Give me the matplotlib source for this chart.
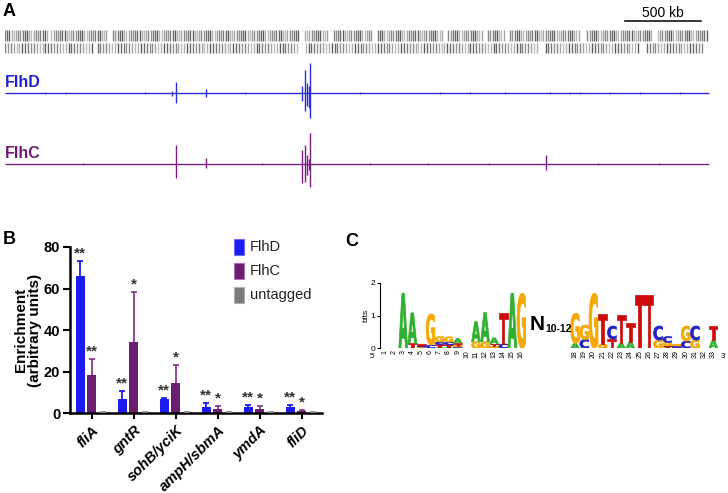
import numpy as np
import matplotlib
matplotlib.use('Agg')
import matplotlib.pyplot as plt
from matplotlib.textpath import TextPath
from matplotlib.patches import PathPatch, Rectangle
from matplotlib.font_manager import FontProperties
from matplotlib.transforms import Affine2D

plt.rcParams['font.family'] = ['Liberation Sans', 'DejaVu Sans']

W, H = 728, 493

# ---------------- Panel A data ----------------
genome_kb = 4640
scale_kb = 500
gene_top_end_kb = 4625
gene_bottom_end_kb = 4580
gene_gaps_top = [(276, 296), (677, 703), (1932, 1958), (2122, 2149), (2418, 2444),
                 (2878, 2904), (3140, 3167), (3285, 3318), (3778, 3824), (4257, 4290)]
gene_gaps_bottom = [(572, 598), (1938, 1971), (3515, 3548), (4172, 4205)]

flhd_peak_kb = [1099, 1125, 1320, 1952, 1969, 1985, 1996, 2007]
flhd_peak_up = [2, 10.6, 4, 7, 23, 10, 7, 30]
flhd_peak_down = [3, 10.7, 4, 8, 18, 13, 15, 25]
flhd_minor_kb = [263, 401, 920, 1580, 2333, 2858, 3055, 3285, 3581, 3713, 3778, 3975, 4172, 4435]

flhc_peak_kb = [1125, 1320, 1952, 1969, 1985, 1996, 2007, 3553]
flhc_peak_up = [18.7, 5.7, 13.7, 18.7, 8.7, 5, 30.7, 8.7]
flhc_peak_down = [14.3, 4.3, 19.3, 18.3, 11.3, 6, 23.3, 6.3]
flhc_minor_kb = [510, 1690, 2400, 2780, 3180, 3900, 4300]

# ---------------- Panel B data ----------------
genes = ['fliA', 'gntR', 'sohB/yciK', 'ampH/sbmA', 'ymdA', 'fliD']
series_names = ['FlhD', 'FlhC', 'untagged']
flhd_vals = [66.0, 6.7, 6.7, 3.2, 3.2, 2.9]
flhd_err = [7.4, 4.2, 0.8, 1.9, 0.8, 1.1]
flhc_vals = [18.3, 34.4, 14.4, 2.2, 2.2, 1.0]
flhc_err = [8.0, 23.8, 8.8, 1.4, 1.4, 0.5]
untagged_vals = [0.3, 0.4, 0.4, 0.3, 0.3, 0.3]
untagged_err = [0.1, 0.1, 0.1, 0.1, 0.1, 0.1]
flhd_sig = ['**', '**', '**', '**', '**', '**']
flhc_sig = ['**', '*', '*', '*', '*', '*']
untagged_sig = ['', '', '', '', '', '']

# ---------------- Panel C data ----------------
left_pos = list(range(1, 17))
right_pos = list(range(18, 34))
logo_pos = left_pos + right_pos
bits_A = [0, 0, 1.68, 0.93, 0.02, 0.0, 0.05, 0.05, 0.14, 0, 0.61, 0.89, 0.18, 0.0, 1.68, 0.0,
          0.15, 0.0, 0.0, 0.0, 0.0, 0.15, 0.20, 0.0, 0.0, 0.0, 0.03, 0.0, 0.0, 0.0, 0, 0.25]
bits_C = [0, 0, 0.0, 0.0, 0.04, 0.10, 0.08, 0.08, 0.04, 0, 0.0, 0.0, 0.02, 0.13, 0.0, 0.0,
          0.0, 0.27, 0.0, 0.0, 0.40, 0.0, 0.0, 0.0, 0.0, 0.43, 0.18, 0.04, 0.22, 0.43, 0, 0.0]
bits_G = [0, 0, 0.0, 0.0, 0.02, 0.95, 0.16, 0.16, 0.04, 0, 0.20, 0.20, 0.04, 0.0, 0.0, 1.68,
          0.92, 0.44, 1.68, 0.12, 0.0, 0.0, 0.0, 0.0, 0.0, 0.25, 0.10, 0.05, 0.46, 0.25, 0, 0.0]
bits_T = [0, 0, 0.0, 0.15, 0.04, 0.0, 0.07, 0.06, 0.08, 0, 0.0, 0.0, 0.08, 0.96, 0.0, 0.0,
          0.0, 0.0, 0.0, 0.92, 0.28, 0.88, 0.56, 1.63, 1.63, 0.0, 0.05, 0.03, 0.0, 0.0, 0, 0.43]
logo_colors = {'A': '#2fb02f', 'C': '#2323c4', 'G': '#f5a800', 'T': '#cc0a0a'}

col_flhd = '#1b1bf2'
col_flhc = '#6b1d70'
col_untag = '#7a7a7a'
col_flhd_trk = '#2b2bd8'
col_flhc_trk = '#7a1f7c'

fig = plt.figure(figsize=(W / 100, H / 100), dpi=100)


def px_axes(x0, y0, x1, y1, **kw):
    return fig.add_axes([x0 / W, 1 - y1 / H, (x1 - x0) / W, (y1 - y0) / H], **kw)


# ---------------- Panel A ----------------
axg = px_axes(5, 5, 711, 55)
axg.set_xlim(0, genome_kb)
axg.set_ylim(55, 5)
axg.axis('off')
grays = ['#7a7a7a', '#a5a5a5', '#5c5c5c', '#929292', '#bdbdbd', '#6a6a6a', '#888888', '#b0b0b0']


def gene_ticks(end_kb, gaps, step):
    pos = np.arange(0, end_kb, step)
    keep = np.ones(len(pos), bool)
    for a, b in gaps:
        keep &= ~((pos >= a) & (pos <= b))
    return pos[keep]


top = gene_ticks(gene_top_end_kb, gene_gaps_top, 14.5)
bot = gene_ticks(gene_bottom_end_kb, gene_gaps_bottom, 19.0)
axg.vlines(top, 30, 40.5, colors=[grays[(i * 5) % len(grays)] for i in range(len(top))], lw=1.0)
axg.vlines(bot, 43, 52.5, colors=[grays[(i * 3) % len(grays)] for i in range(len(bot))], lw=1.0)
# scale bar
axg.plot([genome_kb * 0.878, genome_kb * 0.878 + scale_kb], [21, 21], color='black', lw=1.1)
axg.text(genome_kb * 0.878 + scale_kb / 2, 13, f'{scale_kb} kb', ha='center', va='center', fontsize=10)

trk_specs = [
    (55, 130, flhd_peak_kb, flhd_peak_up, flhd_peak_down, flhd_minor_kb, col_flhd_trk, 'FlhD', '#2020d8', 82.5),
    (126, 201, flhc_peak_kb, flhc_peak_up, flhc_peak_down, flhc_minor_kb, col_flhc_trk, 'FlhC', '#6e1a72', 153.5),
]
for (y0, y1, pk, up, dn, minor, col, name, lcol, ly) in trk_specs:
    ax = px_axes(5, y0, 711, y1)
    ax.set_xlim(0, genome_kb)
    ax.set_ylim(-37.5, 37.5)
    ax.axis('off')
    ax.hlines(0, 0, gene_top_end_kb, color=col, lw=1.0)
    ax.vlines(minor, -1.0, 1.0, color=col, lw=0.6)
    ax.vlines(pk, [-d for d in dn], up, color=col, lw=1.0)
    fig.text(5 / W, 1 - ly / H, name, color=lcol, fontsize=11.5, fontweight='bold', ha='left', va='center')

# ---------------- Panel B ----------------
axb = px_axes(70, 247, 322, 413.3)
gsp = 3.72
xs = np.arange(len(genes)) * gsp
vals = [flhd_vals, flhc_vals, untagged_vals]
errs = [flhd_err, flhc_err, untagged_err]
sigs = [flhd_sig, flhc_sig, untagged_sig]
cols = [col_flhd, col_flhc, col_untag]
ecols = [col_flhd, '#8c3a92', '#8a8a8a']
for j in range(3):
    xx = xs + j
    axb.bar(xx, vals[j], width=0.84, color=cols[j], edgecolor='none', zorder=2)
    tops = np.array(vals[j]) + np.array(errs[j])
    axb.vlines(xx, vals[j], tops, color=ecols[j], lw=1.3, zorder=3)
    axb.hlines(tops, xx - 0.27, xx + 0.27, color=ecols[j], lw=1.3, zorder=3)
    for x, t, s in zip(xx, tops, sigs[j]):
        if s:
            axb.text(x, t + 3.6, s, ha='center', va='center', fontsize=11, fontweight='bold', color='#333333')
axb.set_xlim(-0.91, 21.4)
axb.set_ylim(0, 80)
axb.set_yticks([0, 20, 40, 60, 80])
axb.set_xticks(xs + 1)
axb.set_xticklabels(genes, rotation=45, ha='right', va='top', rotation_mode='anchor',
                    fontsize=10.6, fontweight='bold', fontstyle='italic')
for lab in axb.get_yticklabels():
    lab.set_fontweight('bold')
    lab.set_fontsize(10.5)
axb.tick_params(axis='y', length=5, width=1.5, pad=2)
axb.tick_params(axis='x', length=4, width=1.5, pad=3)
for s in ['top', 'right']:
    axb.spines[s].set_visible(False)
for s in ['left', 'bottom']:
    axb.spines[s].set_linewidth(1.8)
axb.set_ylabel('Enrichment\n(arbitrary units)', fontsize=11, fontweight='bold', labelpad=1, linespacing=1.0)

# legend (overlay, pixel coordinates)
ov = fig.add_axes([0, 0, 1, 1], zorder=10)
ov.set_xlim(0, W)
ov.set_ylim(H, 0)
ov.axis('off')
edge_cols = ['#6a6aff', '#b070b8', '#b0b0b0']
for j, name in enumerate(series_names):
    yc = 247 + 24 * j
    ov.add_patch(Rectangle((234, yc - 8), 10, 16, facecolor=cols[j], edgecolor=edge_cols[j], lw=0.8))
    ov.text(250, yc, name, fontsize=10.5, va='center', ha='left', color='#222222')

# panel letters
for lab, x, y in [('A', 9, 12), ('B', 9, 240), ('C', 352, 241)]:
    ov.text(x, y, lab, fontsize=13, fontweight='bold', ha='center', va='center')

# ---------------- Panel C ----------------
fp = FontProperties(family='DejaVu Sans', weight='bold')


def draw_letter(ax, ch, x, y0, w, h, color):
    if h <= 0:
        return
    tp = TextPath((0, 0), ch, size=1, prop=fp)
    bb = tp.get_extents()
    t = Affine2D().translate(-bb.x0, -bb.y0).scale(w / bb.width, h / bb.height).translate(x - w / 2, y0)
    ax.add_patch(PathPatch(t.transform_path(tp), fc=color, ec=color, lw=0.5))


axl = px_axes(380, 282.7, 526, 348.3)
axr = px_axes(570, 282.7, 718, 348.3)
axl.set_xlim(0.45, 16.5)
axr.set_xlim(17.45, 33.5)
for ax in (axl, axr):
    ax.set_ylim(0, 2)
    for s in ['top', 'right', 'bottom']:
        ax.spines[s].set_visible(False)
    ax.patch.set_alpha(0)

for i, p in enumerate(logo_pos):
    ax = axl if p <= 16 else axr
    stack = sorted([('A', bits_A[i]), ('C', bits_C[i]), ('G', bits_G[i]), ('T', bits_T[i])], key=lambda t: t[1])
    y = 0
    for ch, h in stack:
        if h > 0:
            draw_letter(ax, ch, p, y, 0.97, h, logo_colors[ch])
            y += h

axl.set_yticks([0, 1, 2])
axl.tick_params(axis='y', length=2.5, width=0.8, labelsize=6, pad=1)
axl.spines['left'].set_linewidth(0.8)
axl.set_ylabel('bits', fontsize=6, labelpad=1)
axr.spines['left'].set_visible(False)
axr.set_yticks([])
for ax, pos in ((axl, left_pos), (axr, right_pos)):
    ax.set_xticks(pos)
    ax.set_xticklabels([str(p) for p in pos], rotation=90, fontsize=5)
    ax.tick_params(axis='x', length=0, pad=1.5)

ov.text(373, 357, "5'", fontsize=5.5, ha='center', va='center')
ov.text(723, 357, "3'", fontsize=5.5, ha='center', va='center')
ov.text(530, 325, 'N', fontsize=15, fontweight='bold', ha='left', va='center')
ov.text(545, 328.5, '10-12', fontsize=7.5, fontweight='bold', ha='left', va='center')

fig.savefig('out.png', dpi=100)
